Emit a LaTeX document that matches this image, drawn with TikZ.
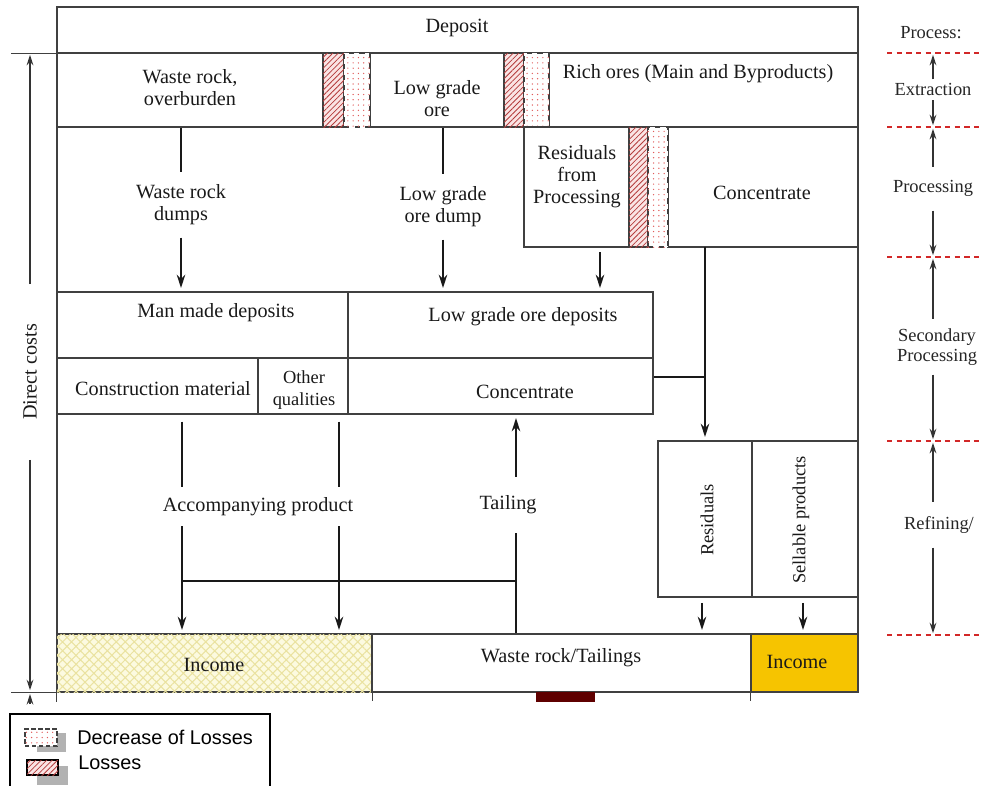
\documentclass[tikz,border=0pt]{standalone}
\usepackage{fontspec}
\setmainfont{Liberation Serif}
\newfontfamily\legendfont{Liberation Sans}
\usetikzlibrary{fit,patterns.meta,arrows.meta,positioning}

\definecolor{framegray}{RGB}{64,64,64}
\definecolor{lossred}{RGB}{180,60,60}
\definecolor{losspink}{RGB}{250,228,228}
\definecolor{dotred}{RGB}{225,90,90}
\definecolor{incomeyel}{RGB}{252,250,224}
\definecolor{hatchyel}{RGB}{234,226,160}
\definecolor{incomegold}{RGB}{246,196,0}
\definecolor{darkbar}{RGB}{95,0,0}
\definecolor{stagered}{RGB}{210,40,40}

\tikzset{
  cellline/.style={draw=framegray, line width=0.6pt},
  cell/.style={cellline, inner sep=0pt},
  losscell/.style={cellline, inner sep=0pt, fill=losspink,
    postaction={pattern={Lines[angle=45,distance=2.2pt,line width=0.45pt]}, pattern color=lossred}},
  deccell/.style={cellline, dashed, inner sep=0pt, fill=white,
    postaction={pattern={Dots[distance=3pt,radius=0.4pt]}, pattern color=dotred}},
  incomecell/.style={cell, fill=incomeyel,
    postaction={pattern={Hatch[angle=45,distance=3.6pt,line width=0.6pt]}, pattern color=hatchyel}},
  txt/.style={inner sep=1pt, align=center, text=black!90, yshift=-1.6pt,
    font=\fontsize{11.5}{12.5}\selectfont},
  uptxt/.style={inner sep=1pt, rotate=90, text=black!90,
    font=\fontsize{10.5}{12}\selectfont},
  proc/.style={inner sep=0pt, align=center, text=black!85, yshift=-1pt,
    font=\fontsize{10.5}{11.3}\selectfont},
  legtxt/.style={inner sep=0pt, anchor=west, font=\legendfont\fontsize{11.3}{13}\selectfont},
  flowline/.style={line width=1.4pt, black!90},
  flow/.style={flowline, -{Stealth[length=7.5pt,width=4.8pt]}, shorten >=2pt},
  sidearrow/.style={line width=0.9pt, black!80, -{Stealth[length=6pt,width=3.8pt]}, shorten >=1pt},
  stageline/.style={stagered, line width=0.6pt, dash pattern=on 3pt off 2.5pt}
}

\begin{document}
\begin{tikzpicture}[x=0.02cm,y=-0.02cm]
\useasboundingbox (0,0) rectangle (987,785);

% outer frame
\node[cell, fit={(57,7) (858,692)}] (frame) {};
\draw[cellline] (frame.south west) -- ++(0,9);

% deposit and extraction
\node[cell, fit={(57,7) (858,53)}] (deposit) {};
\node[txt] (deposittxt) at (457,25) {Deposit};
\node[cell, fit={(57,53) (323,127)}] (waste) {};
\node[txt] (wastetxt) at (190,85) {Waste rock,\\overburden};
\node[cell, fit={(370,53) (504,127)}] (lowore) {};
\node[txt] (lowtxt) at (437,96) {Low grade\\ore};
\node[cell, fit={(549,53) (858,127)}] (rich) {};
\node[txt] (richtxt) at (698,71) {Rich ores (Main and Byproducts)};
\node[losscell, fit={(323,53) (344,127)}] (loss1) {};
\node[deccell, fit={(344,53) (370,127)}] (dec1) {};
\node[losscell, fit={(504,53) (524,127)}] (loss2) {};
\node[deccell, fit={(524,53) (549,127)}] (dec2) {};

% processing
\node[cell, fit={(524,127) (629,247)}] (resid) {};
\node[txt] (residtxt) at (577,174) {Residuals\\from\\Processing};
\node[cell, fit={(668,127) (858,247)}] (conc1) {};
\node[txt] (conc1txt) at (762,190) {Concentrate};
\node[losscell, fit={(629,127) (648,247)}] (loss3) {};
\node[deccell, fit={(648,127) (668,247)}] (dec3) {};

% secondary processing
\node[cell, fit={(57,292) (348,358)}] (manmade) {};
\node[txt] (manmadetxt) at (216,310) {Man made deposits};
\node[cell, fit={(348,292) (653,358)}] (lgdep) {};
\node[txt] (lgdeptxt) at (523,314) {Low grade ore deposits};
\node[cell, fit={(57,358) (258,414)}] (constr) {};
\node[txt] (constrtxt) at (163,386) {Construction material};
\node[cell, fit={(258,358) (348,414)}] (other) {};
\node[txt, font=\fontsize{10.5}{12.5}\selectfont] (othertxt) at (304,387) {Other\\qualities};
\node[cell, fit={(348,358) (653,414)}] (conc2) {};
\node[txt] (conc2txt) at (525,389) {Concentrate};

% refining
\node[cell, fit={(658,441) (752,597)}] (residr) {};
\node[uptxt] (residrtxt) at (707,520) {Residuals};
\node[cell, fit={(752,441) (858,597)}] (sell) {};
\node[uptxt] (selltxt) at (801,520) {Sellable products};

% results
\node[incomecell, fit={(57,634) (372,692)}] (income1) {};
\node[txt] (income1txt) at (214,662) {Income};
\node[cell, fit={(372,634) (751,692)}] (tailings) {};
\node[txt] (tailtxt) at (561,655) {Waste rock/Tailings};
\node[cell, fill=incomegold, fit={(751,634) (858,692)}] (income2) {};
\node[txt] (income2txt) at (797,659) {Income};
\draw[cellline] (income1.south east) -- ++(0,8);
\draw[cellline] (income2.south west) -- ++(0,8);
\fill[darkbar] (536,692) rectangle (595,702);

% flows
\node[txt, minimum height=1.3cm] (wdumps) at (181,202) {Waste rock\\dumps};
\draw[flowline] (waste.south -| wdumps) -- (wdumps.north);
\draw[flow] (wdumps.south) -- (manmade.north -| wdumps);
\node[txt, minimum height=1.3cm] (lgdump) at (443,204) {Low grade\\ore dump};
\draw[flowline] (lowore.south -| lgdump) -- (lgdump.north);
\draw[flow] (lgdump.south) -- (lgdep.north -| lgdump);
\coordinate (rs) at (600,247);
\draw[flow, shorten <=3pt] (rs) -- (lgdep.north -| rs);
\coordinate (cs) at (705,247);
\coordinate (cj) at (705,377);
\draw[flow] (cs) -- (residr.north -| cs);
\draw[flowline] (cj -| conc2.east) -- (cj);

\node[txt, minimum height=0.76cm] (acc) at (258,504) {Accompanying product};
\node[txt, minimum height=1.1cm] (tailing) at (508,502) {Tailing};
\coordinate (acc1) at (182,581);
\coordinate (acc2) at (339,581);
\coordinate (tj) at (516,581);
\draw[flowline, shorten <=4pt] (constr.south -| acc1) -- (acc.north -| acc1);
\draw[flow] (acc.south -| acc1) -- (income1.north -| acc1);
\draw[flowline, shorten <=4pt] (other.south -| acc2) -- (acc.north -| acc2);
\draw[flow] (acc.south -| acc2) -- (income1.north -| acc2);
\draw[flowline] (acc1) -- (tj);
\draw[flowline] (tailings.north -| tj) -- (tailing.south -| tj);
\draw[flow] (tailing.north -| tj) -- (conc2.south -| tj);
\draw[flow, shorten <=3pt] (residr.south -| 702,0) -- (tailings.north -| 702,0);
\draw[flow, shorten <=3pt] (sell.south -| 803,0) -- (income2.north -| 803,0);

% direct costs
\draw[cellline] (deposit.south west) -- ++(-45,0);
\draw[cellline] (frame.south west) -- ++(-45,0);
\coordinate (dctop) at (30,53);
\coordinate (dcbot) at (30,692);
\node[uptxt, font=\fontsize{11.5}{12.5}\selectfont, minimum width=3.5cm] (dc) at (30,372) {Direct costs};
\draw[sidearrow] (dc.east) -- (dctop);
\draw[sidearrow] (dc.west) -- (dcbot);
\draw[sidearrow, shorten >=0pt] (30,704) -- (30,694);

% stages
\node[proc] (process) at (931,31) {Process:};
\foreach \y/\n in {53/1,127/2,257/3,441/4,635/5} {
  \draw[stageline] (887,\y) -- (980,\y);
  \coordinate (p\n) at (933,\y);
}
\node[proc, minimum height=0.4cm] (extr) at (933,88) {Extraction};
\draw[sidearrow] (extr.north -| p1) -- (p1);
\draw[sidearrow] (extr.south -| p2) -- (p2);
\node[proc, minimum height=0.86cm] (procg) at (933,187) {Processing};
\draw[sidearrow] (procg.north -| p2) -- (p2);
\draw[sidearrow] (procg.south -| p3) -- (p3);
\node[proc, minimum height=1.1cm] (secp) at (937,345) {Secondary\\Processing};
\draw[sidearrow] (secp.north -| p3) -- (p3);
\draw[sidearrow] (secp.south -| p4) -- (p4);
\node[proc, minimum height=0.9cm] (refin) at (939,523) {Refining/};
\draw[sidearrow] (refin.north -| p4) -- (p4);
\draw[sidearrow] (refin.south -| p5) -- (p5);

% legend
\node[draw, line width=0.8pt, inner sep=0pt, fit={(10,714) (270,800)}] (legend) {};
\fill[black!30] (37,733) rectangle (66,752);
\node[deccell, solid, dash pattern=on 2.5pt off 1.5pt, fit={(25,729) (57,746)}] (legdec) {};
\node[legtxt] (legdectxt) at (77,737) {Decrease of Losses};
\fill[black!30] (37,766) rectangle (68,785);
\node[losscell, draw=black, fit={(27,760) (58,775)}] (legloss) {};
\node[legtxt] (leglosstxt) at (78,763) {Losses};
\end{tikzpicture}
\end{document}
